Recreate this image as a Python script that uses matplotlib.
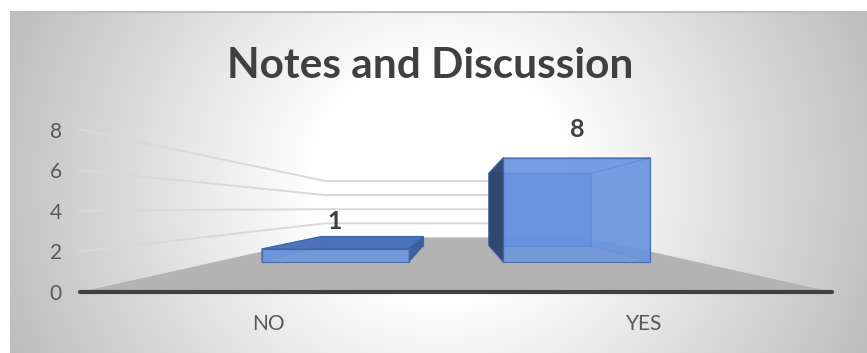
import numpy as np
import matplotlib
matplotlib.use("Agg")
import matplotlib.pyplot as plt
from matplotlib.patches import Polygon

# chart data
title = "Notes and Discussion"
categories = ["NO", "YES"]
values = [1, 8]
yticks = [0, 2, 4, 6, 8]

# fake 3d view settings (front plane = axes data coords)
VP_X, VP_Y = 0.5, 4.12      # vanishing point in data units
FLOOR_BACK = 0.347          # depth scale of the back wall
BAR_FRONT, BAR_BACK = 0.643, 0.445
BAR_W = 0.608

W, H = 867, 353
fig = plt.figure(figsize=(W / 100, H / 100), dpi=100)
fig.patch.set_facecolor("white")


def proj(x, v, s):
    return (VP_X + s * (x - VP_X), VP_Y + s * (v - VP_Y))


# background with radial gradient
bg = fig.add_axes([10 / W, 0, (W - 10) / W, (H - 11) / H], zorder=0)
yy, xx = np.mgrid[11:H, 10:W]
d = np.sqrt(((xx - 440) / 430.0) ** 2 + ((yy - 180) / 400.0) ** 2)
g = 255 - 59 * np.clip((d - 0.3) / 0.7, 0, 1.12)
img = np.dstack([g, g, g]).astype(np.uint8)
bg.imshow(img, aspect="auto", interpolation="bilinear")
bg.axhline(0, color="#bdbdbd", lw=1.5)
bg.axis("off")

ax = fig.add_axes([80 / W, (H - 292) / H, 752 / W, 162.4 / H], zorder=1)
ax.set_xlim(-0.5, 1.5)
ax.set_ylim(0, 8)
ax.patch.set_alpha(0)
for sp in ax.spines.values():
    sp.set_visible(False)

# floor
floor = [proj(-0.5, 0, 1), proj(1.5, 0, 1), proj(1.5, 0, FLOOR_BACK), proj(-0.5, 0, FLOOR_BACK)]
ax.add_patch(Polygon(floor, closed=True, fc="#b3b3b3", ec="none", zorder=1, clip_on=False))

# wall gridlines
for v in yticks[1:]:
    pts = [proj(-0.5, v, 1), proj(-0.5, v, FLOOR_BACK), proj(1.5, v, FLOOR_BACK)]
    ax.plot([p[0] for p in pts], [p[1] for p in pts], color="#d9d9d9", lw=1.4,
            zorder=1, clip_on=False)

# front edge of the floor
ax.plot([-0.5, 1.5], [0, 0], color="#404040", lw=3, solid_capstyle="round",
        zorder=2, clip_on=False)


def face(pts, fc, alpha, z):
    ax.add_patch(Polygon(pts, closed=True, fc=fc, ec="#3b63ad", lw=0.9,
                         alpha=alpha, zorder=z, clip_on=False))


for i, v in enumerate(values):
    x0, x1 = i - BAR_W / 2, i + BAR_W / 2

    def c(x, y, s):
        return proj(x, y, s)

    back = [c(x0, 0, BAR_BACK), c(x1, 0, BAR_BACK), c(x1, v, BAR_BACK), c(x0, v, BAR_BACK)]
    front = [c(x0, 0, BAR_FRONT), c(x1, 0, BAR_FRONT), c(x1, v, BAR_FRONT), c(x0, v, BAR_FRONT)]
    left = [c(x0, 0, BAR_FRONT), c(x0, 0, BAR_BACK), c(x0, v, BAR_BACK), c(x0, v, BAR_FRONT)]
    right = [c(x1, 0, BAR_FRONT), c(x1, 0, BAR_BACK), c(x1, v, BAR_BACK), c(x1, v, BAR_FRONT)]
    top = [c(x0, v, BAR_FRONT), c(x1, v, BAR_FRONT), c(x1, v, BAR_BACK), c(x0, v, BAR_BACK)]

    face(back, "#5f8ad6", 0.9, 3)
    if x0 <= VP_X:
        face(left, "#5f8ad6", 0.5, 3.5)
    if x1 >= VP_X:
        face(right, "#6590da", 0.5, 3.5)
    if v >= VP_Y:
        face(top, "#6d98e0", 0.5, 3.6)
    if x0 > VP_X:
        face(left, "#2c4168", 0.92, 4)
    if x1 < VP_X:
        face(right, "#3b5b99", 0.95, 4)
    if v < VP_Y:
        face(top, "#4b71b8", 0.95, 4)
    face(front, "#6894e0", 0.82, 5)

    tx, ty = c(i, v, BAR_FRONT)
    ax.annotate(str(v), (tx, ty), xytext=(0, 20), textcoords="offset points",
                ha="center", va="center", fontsize=18, fontweight="bold",
                color="#404040", family="Lato", zorder=6, annotation_clip=False)

ax.set_yticks(yticks)
ax.set_yticklabels([str(t) for t in yticks], family="Lato", fontsize=15, color="#595959")
ax.set_xticks(range(len(categories)))
ax.set_xticklabels(categories, family="Lato", fontsize=15, color="#595959")
ax.tick_params(axis="y", length=0, pad=13)
ax.tick_params(axis="x", length=0, pad=16)

fig.text(430 / W, (H - 78) / H, title, ha="center", va="baseline", fontsize=30.5,
         fontweight="bold", color="#404040", family="Lato")

fig.savefig("out.png", dpi=100)
